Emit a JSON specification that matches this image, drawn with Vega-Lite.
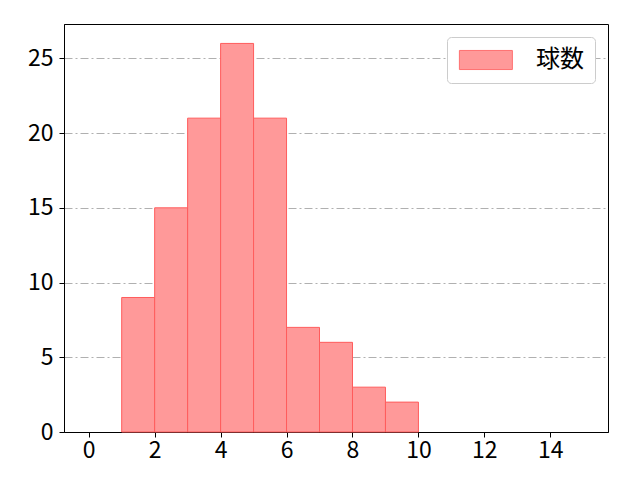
{
  "$schema": "https://vega.github.io/schema/vega-lite/v6.json",
  "description": "Histogram of pitch counts (球数) per bin, matplotlib style.",
  "width": 544,
  "height": 408,
  "autosize": {"type": "none"},
  "padding": {"left": 64, "top": 24, "right": 32, "bottom": 48},
  "background": "white",
  "config": {
    "font": "Noto Sans CJK JP",
    "view": {"stroke": "black", "strokeWidth": 1},
    "axis": {
      "labelFont": "Noto Sans CJK JP",
      "labelFontSize": 23,
      "labelColor": "black",
      "domainColor": "black",
      "tickColor": "black",
      "tickSize": 5,
      "title": null
    }
  },
  "data": {
    "values": [
      {"bin_start": 1, "bin_end": 2, "count": 9},
      {"bin_start": 2, "bin_end": 3, "count": 15},
      {"bin_start": 3, "bin_end": 4, "count": 21},
      {"bin_start": 4, "bin_end": 5, "count": 26},
      {"bin_start": 5, "bin_end": 6, "count": 21},
      {"bin_start": 6, "bin_end": 7, "count": 7},
      {"bin_start": 7, "bin_end": 8, "count": 6},
      {"bin_start": 8, "bin_end": 9, "count": 3},
      {"bin_start": 9, "bin_end": 10, "count": 2}
    ]
  },
  "mark": {
    "type": "bar",
    "fillOpacity": 1,
    "stroke": "#ff5c5c",
    "strokeWidth": 1
  },
  "encoding": {
    "x": {
      "field": "bin_start",
      "type": "quantitative",
      "scale": {"domain": [-0.75, 15.75], "nice": false, "zero": false},
      "axis": {"values": [0, 2, 4, 6, 8, 10, 12, 14], "grid": false, "labelPadding": 2}
    },
    "x2": {"field": "bin_end"},
    "y": {
      "field": "count",
      "type": "quantitative",
      "scale": {"domain": [0, 27.3], "nice": false},
      "axis": {
        "values": [0, 5, 10, 15, 20, 25],
        "grid": true,
        "gridColor": "#b0b0b0",
        "gridDash": [8, 3, 2, 3],
        "gridWidth": 1,
        "labelPadding": 6
      }
    },
    "y2": {"datum": 0},
    "color": {
      "datum": "球数",
      "type": "nominal",
      "scale": {"range": ["#ff9999"]},
      "legend": {
        "title": null,
        "orient": "none",
        "legendX": 383,
        "legendY": 13,
        "padding": 11,
        "cornerRadius": 4,
        "strokeColor": "#cccccc",
        "fillColor": "white",
        "symbolType": "M-1,-0.9H4V0.9H-1Z",
        "symbolSize": 449,
        "symbolStrokeColor": "#ff7070",
        "symbolStrokeWidth": 1,
        "symbolOpacity": 1,
        "labelFontSize": 24,
        "labelFont": "Noto Sans CJK JP",
        "labelColor": "black",
        "labelOffset": 54,
        "labelLimit": 200
      }
    }
  }
}
